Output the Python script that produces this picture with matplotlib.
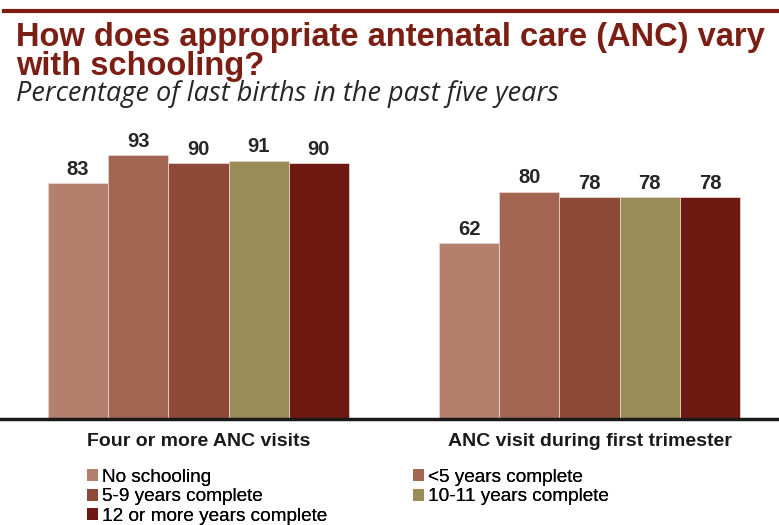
import matplotlib.pyplot as plt
from matplotlib.lines import Line2D
from matplotlib.patches import Patch
import numpy as np

# data
groups = ["Four or more ANC visits", "ANC visit during first trimester"]
series = ["No schooling", "<5 years complete", "5-9 years complete",
          "10-11 years complete", "12 or more years complete"]
values = [
    [83, 62],
    [93, 80],
    [90, 78],
    [91, 78],
    [90, 78],
]
colors = ["#b47f6c", "#a36653", "#8e4a39", "#9a8c57", "#6e1a12"]

W, H = 779, 525
fig = plt.figure(figsize=(W / 100, H / 100), dpi=100)

# top rule
fig.add_artist(Line2D([4 / W, 1], [1 - 11.3 / H, 1 - 11.3 / H], color="#7a1c12", lw=3))

fig.text(16 / W, 1 - 46 / H, "How does appropriate antenatal care (ANC) vary",
         family="Liberation Sans", weight="bold", fontsize=23.5, color="#7b1e14")
fig.text(16 / W, 1 - 75 / H, "with schooling?",
         family="Liberation Sans", weight="bold", fontsize=23.5, color="#7b1e14")
fig.text(16 / W, 1 - 101 / H, "Percentage of last births in the past five years",
         family="Open Sans", style="italic", fontsize=19.5, color="#262626")

ax = fig.add_axes([0, 1 - 419 / H, 1, 284 / H])
x = np.arange(len(groups))
bw = 0.154
for i, (name, vals, c) in enumerate(zip(series, values, colors)):
    pos = x + (i - 2) * bw
    ax.bar(pos, vals, bw, color=c, edgecolor="#e6d3cc", linewidth=0.6, label=name)
    for p, v in zip(pos, vals):
        ax.annotate(str(v), (p, v), xytext=(0, 6), textcoords="offset points",
                    ha="center", va="baseline", family="Liberation Sans",
                    weight="bold", fontsize=14.5, color="#262626")

ax.set_xlim(-0.5077, 1.4847)
ax.set_ylim(0, 100)
for s in ["top", "left", "right"]:
    ax.spines[s].set_visible(False)
ax.spines["bottom"].set_linewidth(2.5)
ax.spines["bottom"].set_color("#1a1a1a")
ax.set_yticks([])
ax.set_xticks(x)
ax.set_xticklabels(groups, family="Liberation Sans", weight="bold", fontsize=14, color="#1a1a1a")
ax.tick_params(axis="x", length=0, pad=10)

# legend, one column at a time
cols = [[0, 2, 4], [1, 3]]
col_x = [87, 413]
for idx, cx in zip(cols, col_x):
    handles = [Patch(facecolor=colors[i]) for i in idx]
    labels = [series[i] for i in idx]
    leg = fig.legend(handles, labels, loc="upper left", bbox_to_anchor=(cx / W, 1 - 469 / H),
                     frameon=False, prop={"family": "Liberation Sans", "size": 13.7},
                     handlelength=0.6, handleheight=0.6, handletextpad=0.2,
                     labelspacing=0.12, borderaxespad=0, borderpad=0)
    fig.add_artist(leg)

fig.savefig("out.png", dpi=100)
